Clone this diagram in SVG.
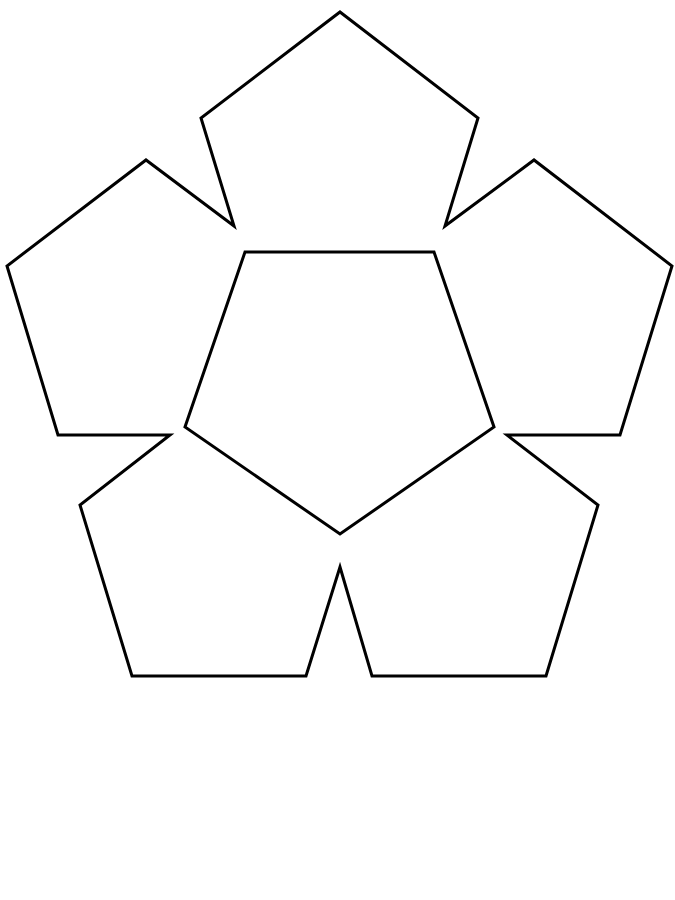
<svg xmlns="http://www.w3.org/2000/svg" width="675" height="900" viewBox="0 0 675 900">
<style>.s{fill:none;stroke:#000;stroke-width:3;stroke-linejoin:miter}</style>
<rect width="675" height="900" fill="#fff"/>
<g id="outer">
<polygon class="s" points="340,12 478,118 445,226 534,160 672,266 620,435 507,435 598,505 546,676 372,676 340,567 306,676 132,676 80,505 170,435 58,435 7,266 146,160 234,226 201,118"/>
</g>
<g id="center">
<polygon class="s" points="245,252 434,252 494,427 340,534 185,427"/>
</g>
</svg>
